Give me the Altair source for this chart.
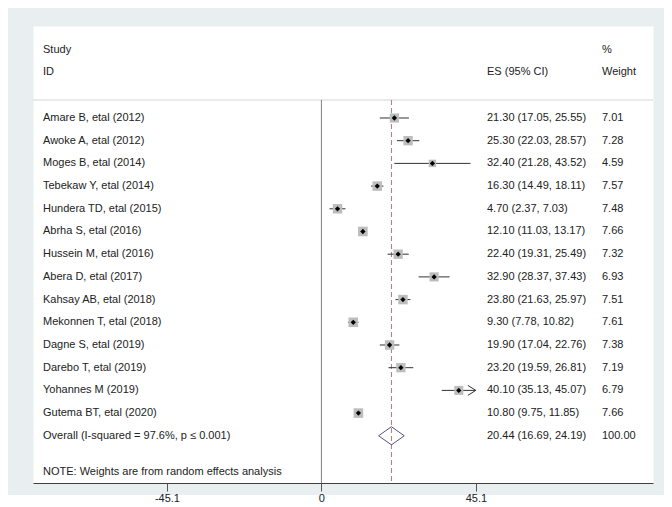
import altair as alt
import pandas as pd

studies = ["Amare B, etal (2012)", "Awoke A, etal (2012)", "Moges B, etal (2014)",
           "Tebekaw Y, etal (2014)", "Hundera TD, etal (2015)", "Abrha S, etal (2016)",
           "Hussein M, etal (2016)", "Abera D, etal (2017)", "Kahsay AB, etal (2018)",
           "Mekonnen T, etal (2018)", "Dagne S, etal (2019)", "Darebo T, etal (2019)",
           "Yohannes M (2019)", "Gutema BT, etal (2020)"]
es = [21.30, 25.30, 32.40, 16.30, 4.70, 12.10, 22.40, 32.90, 23.80, 9.30, 19.90, 23.20, 40.10, 10.80]
lo = [17.05, 22.03, 21.28, 14.49, 2.37, 11.03, 19.31, 28.37, 21.63, 7.78, 17.04, 19.59, 35.13, 9.75]
hi = [25.55, 28.57, 43.52, 18.11, 7.03, 13.17, 25.49, 37.43, 25.97, 10.82, 22.76, 26.81, 45.07, 11.85]
weights = [7.01, 7.28, 4.59, 7.57, 7.48, 7.66, 7.32, 6.93, 7.51, 7.61, 7.38, 7.19, 6.79, 7.66]

overall_label = "Overall  (I-squared = 97.6%, p \u2264 0.001)"
overall_es, overall_lo, overall_hi, overall_w = 20.44, 16.69, 24.19, 100.00
axis_ticks = [-45.1, 0, 45.1]
note = "NOTE: Weights are from random effects analysis"

FONT = "Liberation Sans"
TXT = "#222222"

n = len(studies)
df = pd.DataFrame({
    "study": studies, "es": es, "lo": lo, "hi": hi, "w": weights,
    "row": list(range(n)),
})
df["es_txt"] = [f"{e:.2f} ({l:.2f}, {h:.2f})" for e, l, h in zip(es, lo, hi)]
df["w_txt"] = [f"{w:.2f}" for w in weights]

ov = pd.DataFrame({"study": [overall_label], "row": [n],
                   "es_txt": [f"{overall_es:.2f} ({overall_lo:.2f}, {overall_hi:.2f})"],
                   "w_txt": [f"{overall_w:.2f}"]})
labels = pd.concat([df[["study", "row", "es_txt", "w_txt"]], ov], ignore_index=True)

dia = pd.DataFrame({
    "x": [overall_lo, overall_es, overall_hi, overall_es, overall_lo],
    "row": [n, n - 0.4, n, n + 0.4, n],
    "o": [0, 1, 2, 3, 4],
})

xs = alt.Scale(domain=[-84.2, 96.8], nice=False, zero=False)
ys = alt.Scale(domain=[16.08, -4.053], nice=False, zero=False)
XAXIS = alt.Axis(values=axis_ticks, title=None, grid=False,
                 labelExpr="datum.value == 0 ? '0' : (datum.value < 0 ? '-' : '') + format(abs(datum.value), '.1f')",
                 domainColor="#404040", tickColor="#555555", tickSize=8,
                 labelFont=FONT, labelFontSize=11, labelColor=TXT,
                 labelPadding=1, zindex=1)
def X(f):
    return alt.X(f, type="quantitative", scale=xs, axis=XAXIS)
Y = alt.Y("row:Q", scale=ys, axis=None)

base = alt.Chart(df)

strip = alt.Chart(pd.DataFrame({"a": [0]})).mark_rect(color="white").encode(
    x=alt.value(-25), x2=alt.value(640), y=alt.value(469), y2=alt.value(490))

hline = alt.Chart(pd.DataFrame({"a": [0]})).mark_rule(color="#D4D4D4", strokeWidth=1).encode(
    x=alt.value(0), x2=alt.value(620), y=alt.value(74))

zero = alt.Chart(pd.DataFrame({"z": [0]})).mark_rule(color="#808080", strokeWidth=1).encode(
    x=X("z"), y=alt.value(74), y2=alt.value(457))

dash = alt.Chart(pd.DataFrame({"z": [overall_es]})).mark_rule(
    color="#B07A7A", strokeWidth=1, strokeDash=[5, 3]).encode(
    x=X("z"), y=alt.value(74), y2=alt.value(457))

boxes = base.mark_square(color="#BDBDBD", opacity=1).encode(
    x=X("es"), y=Y,
    size=alt.Size("w:Q", scale=alt.Scale(type="linear", domain=[0, 10], range=[0, 120]), legend=None))

ci = base.mark_rule(color="#333333", strokeWidth=1).encode(
    x=X("lo"), x2="hi:Q", y=Y)

dots = base.mark_point(shape="diamond", filled=True, color="black", size=28, opacity=1).encode(
    x=X("es"), y=Y)

arrows = base.transform_filter("datum.hi > 45").mark_point(
    shape="M -1.6 -1 L 0 0 L -1.6 1", filled=False, color="#333333", size=100,
    strokeWidth=1, opacity=1).encode(x=X("hi"), y=Y)

diamond = alt.Chart(dia).mark_line(color="#55557F", strokeWidth=1).encode(
    x=X("x"), y=Y, order="o:Q")

tkw = dict(font=FONT, fontSize=11, color=TXT, align="left", baseline="middle")
lab = alt.Chart(labels)
t_study = lab.mark_text(**tkw).encode(x=alt.value(10), y=Y, text="study:N")
t_es = lab.mark_text(**tkw).encode(x=alt.value(454), y=Y, text="es_txt:N")
t_w = lab.mark_text(**tkw).encode(x=alt.value(569), y=Y, text="w_txt:N")

hdr = pd.DataFrame({"t": ["Study", "ID", "ES (95% CI)", "%", "Weight"],
                    "px": [10, 10, 454, 569, 569],
                    "py": [24, 46, 46, 24, 46]})
t_hdr = alt.Chart(hdr).mark_text(**tkw).encode(
    x=alt.X("px:Q", scale=None, axis=None), y=alt.Y("py:Q", scale=None, axis=None), text="t:N")

t_note = alt.Chart(pd.DataFrame({"t": [note]})).mark_text(**tkw).encode(
    x=alt.value(10), y=alt.value(446), text="t:N")

chart = alt.layer(strip, hline, zero, dash, ci, boxes, dots, arrows, diamond,
                  t_study, t_es, t_w, t_note, t_hdr).properties(
    width=620, height=457,
    autosize=alt.AutoSizeParams(type="none"),
    padding={"left": 25, "top": 18, "right": 11, "bottom": 24},
    background="#E9EFF1",
).configure_view(fill="white", stroke="transparent")

chart.save("out.html", embed_options={"renderer": "svg", "actions": False})
